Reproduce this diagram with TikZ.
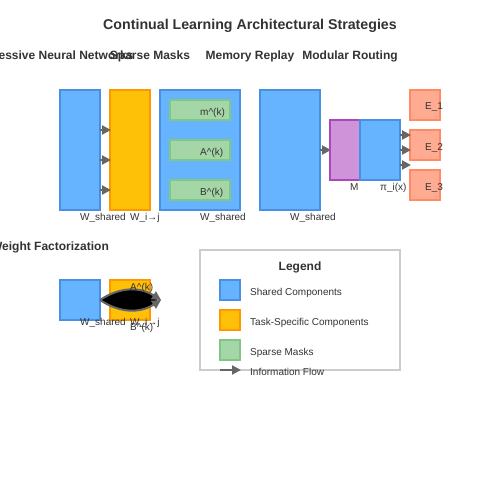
\documentclass[tikz,border=0pt]{standalone}
\usepackage{fontspec}
\setmainfont{Liberation Sans}
\usetikzlibrary{arrows.meta}
\definecolor{bfill}{HTML}{66B3FF}
\definecolor{bdraw}{HTML}{4A90E2}
\definecolor{ofill}{HTML}{FFC107}
\definecolor{odraw}{HTML}{FF9800}
\definecolor{gfill}{HTML}{A5D6A7}
\definecolor{gdraw}{HTML}{81C784}
\definecolor{pfill}{HTML}{CE93D8}
\definecolor{pdraw}{HTML}{AB47BC}
\definecolor{sfill}{HTML}{FFAB91}
\definecolor{sdraw}{HTML}{FF8A65}
\definecolor{txt}{HTML}{333333}
\definecolor{arr}{HTML}{666666}
\definecolor{lgd}{HTML}{CCCCCC}
\tikzset{
  shared/.style={fill=bfill,draw=bdraw,line width=1.5pt},
  taskspec/.style={fill=ofill,draw=odraw,line width=1.5pt},
  maskbox/.style={fill=gfill,draw=gdraw,line width=1.5pt},
  routerbox/.style={fill=pfill,draw=pdraw,line width=1.5pt},
  expertbox/.style={fill=sfill,draw=sdraw,line width=1.5pt},
  lbl/.style={anchor=base west,inner sep=0pt,text=txt,font=\fontsize{10}{12}\selectfont},
  sectitle/.style={anchor=base,inner sep=0pt,text=txt,font=\fontsize{12}{14}\selectfont\bfseries},
  flow/.style={draw=arr,line width=2pt,-{Triangle[length=9pt,width=9pt]}},
}
\begin{document}
\begin{tikzpicture}[x=1pt,y=-1pt]
\useasboundingbox (0,0) rectangle (500,500);
\clip (0,0) rectangle (500,500);
\fill[white] (0,0) rectangle (500,500);
% title
\node[anchor=base,inner sep=0pt,text=txt,font=\fontsize{14.2}{16}\selectfont\bfseries] (title) at (250,30) {Continual Learning Architectural Strategies};
% section titles
\node[sectitle] (t1) at (50,60) {Progressive Neural Networks};
\node[sectitle] (t2) at (150,60) {Sparse Masks};
\node[sectitle] (t3) at (250,60) {Memory Replay};
\node[sectitle] (t4) at (350,60) {Modular Routing};
\node[sectitle] (t5) at (50,250) {Weight Factorization};
% Progressive
\path[shared] (60,90) rectangle (100,210);
\path[taskspec] (110,90) rectangle (150,210);
\coordinate (pa1) at (100,130); \coordinate (pb1) at (111,130);
\coordinate (pa2) at (100,160); \coordinate (pb2) at (111,160);
\coordinate (pa3) at (100,190); \coordinate (pb3) at (111,190);
\draw[flow] (pa1) -- (pb1);
\draw[flow] (pa2) -- (pb2);
\draw[flow] (pa3) -- (pb3);
\node[lbl] (pl1) at (80,220) {W\_shared};
\node[lbl] (pl2) at (130,220) {W\_i→j};
% Sparse masks
\path[shared] (160,90) rectangle (240,210);
\path[maskbox] (170,100) rectangle (230,120);
\path[maskbox] (170,140) rectangle (230,160);
\path[maskbox] (170,180) rectangle (230,200);
\node[lbl] (m1) at (200,115) {m\textasciicircum(k)};
\node[lbl] (m2) at (200,155) {A\textasciicircum(k)};
\node[lbl] (m3) at (200,195) {B\textasciicircum(k)};
\node[lbl] (sl) at (200,220) {W\_shared};
% Memory replay
\path[shared] (260,90) rectangle (320,210);
\node[lbl] (ml) at (290,220) {W\_shared};
\coordinate (ma) at (320,150); \coordinate (mb) at (331,150);
\draw[flow] (ma) -- (mb);
% Modular routing
\path[routerbox] (330,120) rectangle (370,180);
\path[shared] (360,120) rectangle (400,180);
\node[lbl] (rl1) at (350,190) {M};
\node[lbl] (rl2) at (380,190) {π\_i(x)};
\path[expertbox] (410,90) rectangle (440,120);
\path[expertbox] (410,130) rectangle (440,160);
\path[expertbox] (410,170) rectangle (440,200);
\node[lbl] (e1) at (425,110) {E\_1};
\node[lbl] (e2) at (425,150) {E\_2};
\node[lbl] (e3) at (425,190) {E\_3};
\coordinate (ra1) at (400,135); \coordinate (rb1) at (411,135);
\coordinate (ra2) at (400,150); \coordinate (rb2) at (411,150);
\coordinate (ra3) at (400,165); \coordinate (rb3) at (411,165);
\draw[flow] (ra1) -- (rb1);
\draw[flow] (ra2) -- (rb2);
\draw[flow] (ra3) -- (rb3);
% Weight factorization
\path[shared] (60,280) rectangle (100,320);
\path[taskspec] (110,280) rectangle (150,320);
\coordinate (wa) at (100,300); \coordinate (wb) at (161,300);
\fill[black] (wa) .. controls (120,286.67) and (140,286.67) .. (157,298) -- (157,302) .. controls (140,313.33) and (120,313.33) .. (wa) -- cycle;
\draw[flow] (wa) .. controls (120,286.67) and (140,286.67) .. (wb);
\draw[flow] (wa) .. controls (120,313.33) and (140,313.33) .. (wb);
\node[lbl] (wl1) at (80,325) {W\_shared};
\node[lbl] (wl2) at (130,325) {W\_i→j};
\node[lbl] (wl3) at (130,290) {A\textasciicircum(k)};
\node[lbl] (wl4) at (130,330) {B\textasciicircum(k)};
% Legend
\draw[draw=lgd,fill=white,line width=1.5pt] (200,250) rectangle (400,370);
\node[anchor=base,inner sep=0pt,text=txt,font=\fontsize{12}{14}\selectfont\bfseries] (lt) at (300,270) {Legend};
\path[shared] (220,280) rectangle (240,300);
\path[taskspec] (220,310) rectangle (240,330);
\path[maskbox] (220,340) rectangle (240,360);
\node[lbl] (lg1) at (250,295) {Shared Components};
\node[lbl] (lg2) at (250,325) {Task-Specific Components};
\node[lbl] (lg3) at (250,355) {Sparse Masks};
\coordinate (la) at (220,370); \coordinate (lb) at (241,370);
\draw[flow] (la) -- (lb);
\node[lbl] (lg4) at (250,375) {Information Flow};
\end{tikzpicture}
\end{document}
